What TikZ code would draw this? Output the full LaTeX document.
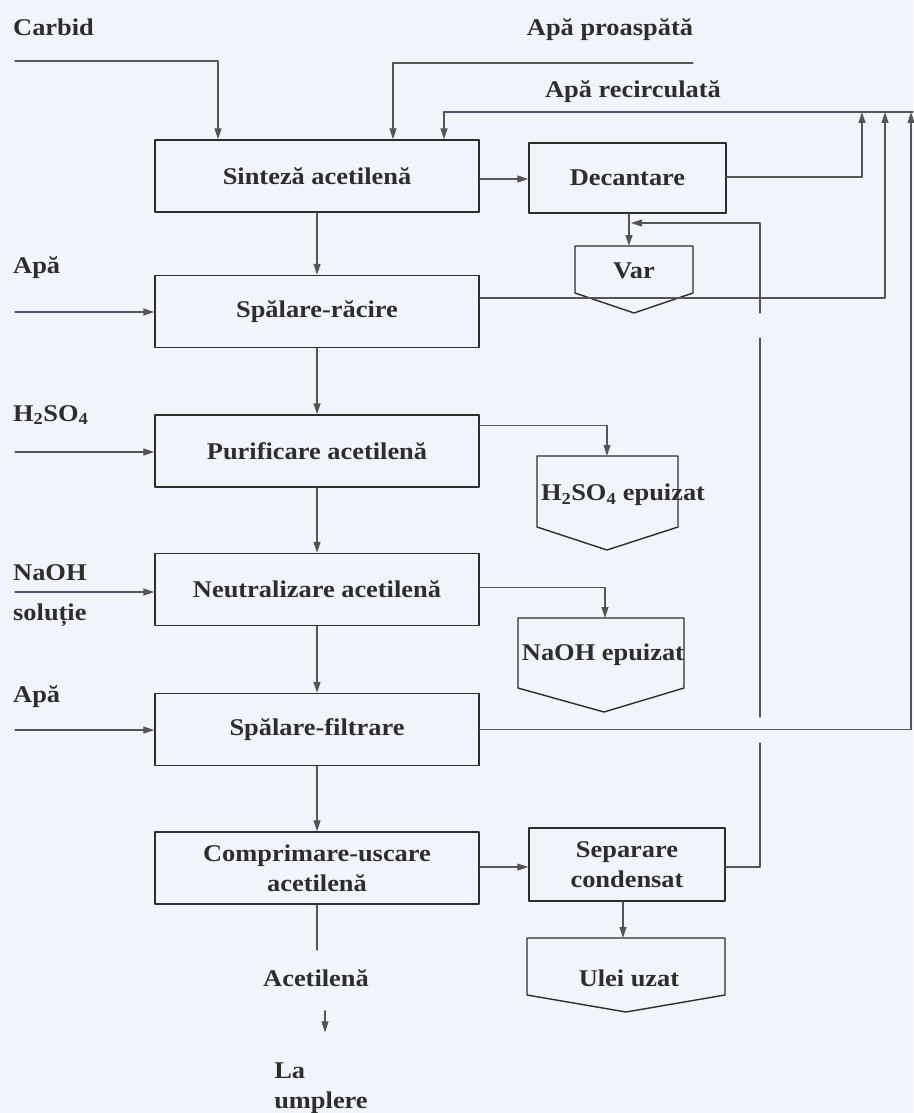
\documentclass[tikz,border=0pt]{standalone}
\usepackage{fontspec}
\setmainfont{Liberation Serif}[FakeStretch=1.1]
\usetikzlibrary{arrows.meta}
\definecolor{fundal}{RGB}{241,244,250}
\definecolor{linie}{RGB}{85,85,85}
\definecolor{scris}{RGB}{45,45,45}
\tikzset{
  bloc/.style={draw=scris,line width=1.4pt,minimum width=324pt,minimum height=72pt,align=center,inner sep=2pt},
  blocmic/.style={bloc,minimum width=197pt},
  flux/.style={draw=linie,line width=1.1pt,->},
  conducta/.style={draw=linie,line width=1.1pt},
  iesire/.style={draw=scris,line width=1.4pt},
  eticheta/.style={anchor=west,inner sep=0pt},
}

\begin{document}
\begin{tikzpicture}[line cap=round,line join=round,>={Triangle[length=11pt,width=7pt]},x=1pt,y=-1pt,font=\fontsize{24}{30}\selectfont\bfseries,text=scris]
    \fill[fundal] (0,0) rectangle (913,1113);
    \useasboundingbox (0,0) rectangle (913,1113);
    % coloana principala
    \node[bloc] (sinteza) at (317,176) {Sinteză acetilenă};
    \node[bloc] (racire) at (317,311.5) {Spălare-răcire};
    \node[bloc] (purificare) at (317,451) {Purificare acetilenă};
    \node[bloc] (neutralizare) at (317,589.5) {Neutralizare acetilenă};
    \node[bloc] (filtrare) at (317,729.5) {Spălare-filtrare};
    \node[bloc] (comprimare) at (317,868) {Comprimare-uscare\\acetilenă};
    \node[blocmic,minimum height=70pt] (decantare) at (627.5,178) {Decantare};
    \node[blocmic,minimum height=73pt,minimum width=196pt] (separare) at (627,864.5) {Separare\\condensat};
    % deseuri
    \draw[iesire] (575,246) -- (693,246) -- (693,293) -- (634,313) -- (575,293) -- cycle;
    \node (var) at (634,271) {Var};
    \draw[iesire] (537,456) -- (678,456) -- (678,527) -- (607,550) -- (537,527) -- cycle;
    \node (acidep) at (623,495) {H\textsubscript{2}SO\textsubscript{4} epuizat};
    \draw[iesire] (518,618) -- (684,618) -- (684,688) -- (604,712) -- (518,688) -- cycle;
    \node (naohep) at (603,655) {NaOH epuizat};
    \draw[iesire] (527,938) -- (725,938) -- (725,995) -- (626,1012) -- (527,995) -- cycle;
    \node (ulei) at (629,978) {Ulei uzat};
    % intrari
    \node[eticheta] (lcarbid) at (13,27) {Carbid};
    \node (lproaspata) at (610,30) {Apă proaspătă};
    \node (lrecirc) at (633,92) {Apă recirculată};
    \node[eticheta] (lapa1) at (13,268) {Apă};
    \node[eticheta] (lacid) at (13,415) {H\textsubscript{2}SO\textsubscript{4}};
    \node[eticheta] (lnaoh) at (13,573) {NaOH};
    \node[eticheta] (lsolutie) at (13,615) {soluție};
    \node[eticheta] (lapa2) at (13,697) {Apă};
    \node[inner sep=0pt] (acetilena) at (316,978) {Acetilenă};
    \node[inner sep=0pt,align=left] (umplere) at (321,1088) {La\\umplere};
    \coordinate (carbid) at (15,61);
    \coordinate (proaspata) at (693,63);
    \coordinate (recirc) at (913,112);
    \coordinate (apa1) at (15,312);
    \coordinate (acid) at (15,452);
    \coordinate (naoh) at (15,592);
    \coordinate (apa2) at (15,730);
    \coordinate (r1) at (862,112);
    \coordinate (r2) at (885,112);
    \coordinate (r3) at (911,112);
    \coordinate (varsus) at (629,246);
    \coordinate (acidsus) at (607,456);
    \coordinate (naohsus) at (605,618);
    \coordinate (uleisus) at (623,938);
    \coordinate (c1) at (760,743);
    \coordinate (c2) at (760,717);
    \coordinate (c3) at (760,338);
    \coordinate (c4) at (760,313);
    \coordinate (varin) at (631,223);
    \coordinate (capat) at (317,950);
    % alimentari
    \draw[flux] (carbid) -| ([xshift=-99pt]sinteza.north);
    \draw[flux] (proaspata) -| ([xshift=76pt]sinteza.north);
    \draw[flux] (recirc) -| ([xshift=127pt]sinteza.north);
    \draw[flux] (apa1) -- (apa1 -| racire.west);
    \draw[flux] (acid) -- (acid -| purificare.west);
    \draw[flux] (naoh) -- (naoh -| neutralizare.west);
    \draw[flux] (apa2) -- (apa2 -| filtrare.west);
    % fluxul de acetilena
    \draw[flux] (sinteza) -- (racire);
    \draw[flux] (racire) -- (purificare);
    \draw[flux] (purificare) -- (neutralizare);
    \draw[flux] (neutralizare) -- (filtrare);
    \draw[flux] (filtrare) -- (comprimare);
    \draw[conducta] (comprimare.south) -- (capat);
    \draw[flux,shorten <=24pt,shorten >=30pt] ([xshift=9pt]acetilena.south) -- ([xshift=9pt]acetilena.south |- umplere.north);
    % iesiri laterale
    \draw[flux] ([yshift=-3pt]sinteza.east) -- ([yshift=-3pt]sinteza.east -| decantare.west);
    \draw[flux] (decantare.south -| varsus) -- (varsus);
    \draw[flux] ([yshift=-11pt]purificare.north east) -| (acidsus);
    \draw[flux] ([yshift=2pt]neutralizare.east) -| (naohsus);
    \draw[flux] ([yshift=1pt]comprimare.east) -- ([yshift=1pt]comprimare.east -| separare.west);
    \draw[flux] (separare.south -| uleisus) -- (uleisus);
    % apa recirculata
    \draw[flux] ([yshift=1pt]decantare.east) -| (r1);
    \draw[flux] ([yshift=13.5pt]racire.east) -| (r2);
    \draw[flux] (filtrare.east) -| (r3);
    \draw[conducta] ([yshift=-2.5pt]separare.east) -| (c1);
    \draw[conducta] (c2) -- (c3);
    \draw[flux] (c4) |- (varin);
\end{tikzpicture}
\end{document}
